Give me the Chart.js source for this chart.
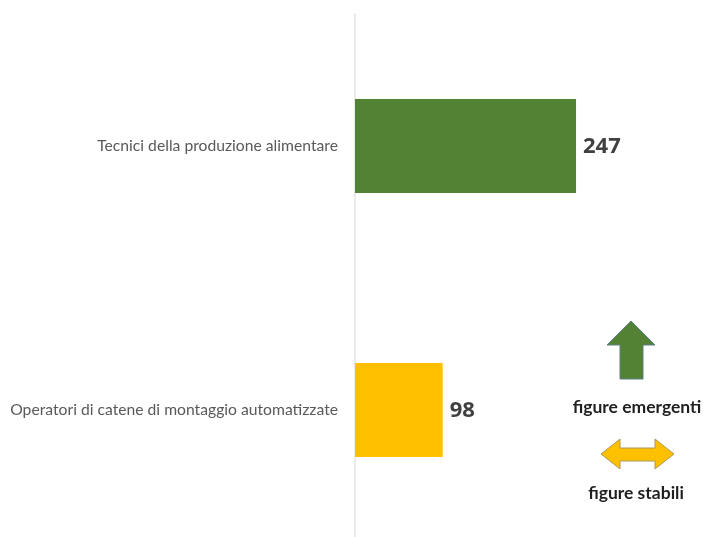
<!DOCTYPE html>
<html>
<head>
<meta charset="utf-8">
<script src="https://cdn.jsdelivr.net/npm/chart.js@4/dist/chart.umd.min.js"></script>
<style>
  html, body { margin: 0; padding: 0; background: #ffffff; overflow: hidden; }
  #wrap { position: relative; width: 710px; height: 542px; }
</style>
</head>
<body>
<div id="wrap"><canvas id="chart"></canvas></div>
<script>
// Profili professionali e numero di figure richieste
const categories = [
  'Tecnici della produzione alimentare',
  'Operatori di catene di montaggio automatizzate'
];
const values = [247, 98];
const barColors = ['#548235', '#FFC000'];
const legendLabels = ['figure emergenti', 'figure stabili'];

// Value labels at the end of each bar
const valueLabels = {
  id: 'valueLabels',
  afterDatasetsDraw(chart) {
    const ctx = chart.ctx;
    const meta = chart.getDatasetMeta(0);
    ctx.save();
    ctx.font = 'bold 22px "Open Sans", sans-serif';
    ctx.fillStyle = '#404040';
    ctx.textAlign = 'left';
    ctx.textBaseline = 'middle';
    meta.data.forEach((bar, i) => {
      ctx.fillText(String(chart.data.datasets[0].data[i]), bar.x + 7, bar.y + 1);
    });
    ctx.restore();
  }
};

// Key with arrows: emerging (up arrow) and stable (double arrow) profiles
const arrowKey = {
  id: 'arrowKey',
  afterDraw(chart) {
    const ctx = chart.ctx;
    ctx.save();
    ctx.lineJoin = 'miter';
    ctx.lineWidth = 1;

    // up arrow
    ctx.beginPath();
    ctx.moveTo(631, 321);
    ctx.lineTo(655, 345);
    ctx.lineTo(643, 345);
    ctx.lineTo(643, 379);
    ctx.lineTo(620, 379);
    ctx.lineTo(620, 345);
    ctx.lineTo(607, 345);
    ctx.closePath();
    ctx.fillStyle = barColors[0];
    ctx.fill();
    ctx.strokeStyle = '#5d7f86';
    ctx.stroke();

    // double arrow
    ctx.beginPath();
    ctx.moveTo(601, 454);
    ctx.lineTo(620, 439);
    ctx.lineTo(620, 448);
    ctx.lineTo(655, 448);
    ctx.lineTo(655, 439);
    ctx.lineTo(674, 454);
    ctx.lineTo(655, 469);
    ctx.lineTo(655, 461);
    ctx.lineTo(620, 461);
    ctx.lineTo(620, 469);
    ctx.closePath();
    ctx.fillStyle = barColors[1];
    ctx.fill();
    ctx.strokeStyle = '#a8985c';
    ctx.stroke();

    ctx.font = 'bold 17.5px Lato, sans-serif';
    ctx.fillStyle = '#1f1f1f';
    ctx.textAlign = 'center';
    ctx.textBaseline = 'middle';
    ctx.fillText(legendLabels[0], 637, 407);
    ctx.fillText(legendLabels[1], 636, 493);
    ctx.restore();
  }
};

new Chart(document.getElementById('chart'), {
  type: 'bar',
  data: {
    labels: categories,
    datasets: [{
      data: values,
      backgroundColor: barColors,
      borderWidth: 0,
      categoryPercentage: 1,
      barPercentage: 0.356
    }]
  },
  options: {
    indexAxis: 'y',
    responsive: true,
    maintainAspectRatio: false,
    animation: false,
    layout: { padding: { top: 14, right: 6, bottom: 0, left: 0 } },
    plugins: {
      legend: { display: false },
      tooltip: { enabled: false }
    },
    scales: {
      x: { display: false, min: 0, max: 390 },
      y: {
        grid: { display: false, drawTicks: false },
        border: { display: true, color: '#ebebeb', width: 2 },
        ticks: {
          color: '#595959',
          padding: 17,
          font: { family: 'Lato, sans-serif', size: 15.7 }
        },
        afterFit(scale) {
          scale.width = 355;
          scale.paddingTop = 0;
          scale.paddingBottom = 0;
        }
      }
    }
  },
  plugins: [valueLabels, arrowKey]
});
</script>
</body>
</html>
